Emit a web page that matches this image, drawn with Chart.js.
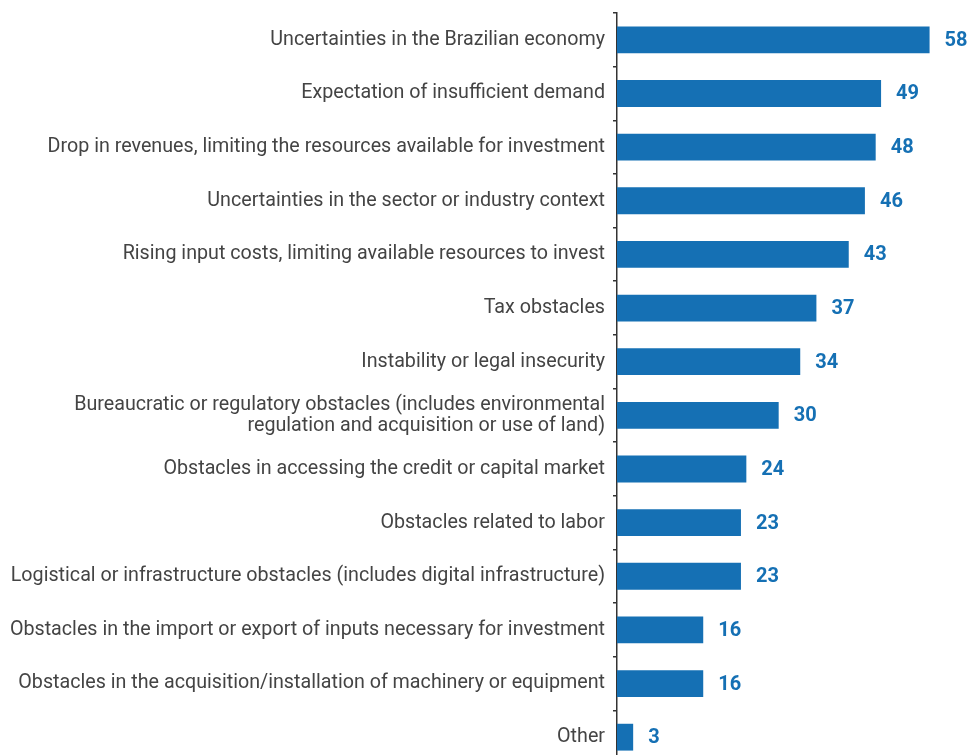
<!DOCTYPE html>
<html>
<head>
<meta charset="utf-8">
<script src="https://cdn.jsdelivr.net/npm/chart.js@4/dist/chart.umd.min.js"></script>
<style>
  html, body { margin: 0; padding: 0; background: #fff; overflow: hidden; }
</style>
</head>
<body>
<canvas id="chart" width="970" height="764"></canvas>
<script>
  // Categories and values
  const categories = [
    'Uncertainties in the Brazilian economy',
    'Expectation of insufficient demand',
    'Drop in revenues, limiting the resources available for investment',
    'Uncertainties in the sector or industry context',
    'Rising input costs, limiting available resources to invest',
    'Tax obstacles',
    'Instability or legal insecurity',
    ['Bureaucratic or regulatory obstacles (includes environmental', 'regulation and acquisition or use of land)'],
    'Obstacles in accessing the credit or capital market',
    'Obstacles related to labor',
    'Logistical or infrastructure obstacles (includes digital infrastructure)',
    'Obstacles in the import or export of inputs necessary for investment',
    'Obstacles in the acquisition/installation of machinery or equipment',
    'Other'
  ];
  const values = [58, 49, 48, 46, 43, 37, 34, 30, 24, 23, 23, 16, 16, 3];

  const BLUE = '#1570b4';

  // value labels at the end of each bar
  const barValueLabels = {
    id: 'barValueLabels',
    afterDatasetsDraw(chart) {
      const ctx = chart.ctx;
      const meta = chart.getDatasetMeta(0);
      ctx.save();
      ctx.fillStyle = BLUE;
      ctx.font = 'bold 20px Roboto';
      ctx.textAlign = 'left';
      ctx.textBaseline = 'middle';
      meta.data.forEach((bar, i) => {
        ctx.fillText(values[i], bar.x + 15, bar.y + 1);
      });
      ctx.restore();
    }
  };

  new Chart(document.getElementById('chart').getContext('2d'), {
    type: 'bar',
    data: {
      labels: categories,
      datasets: [{
        data: values,
        backgroundColor: BLUE,
        borderWidth: 0,
        barPercentage: 0.5,
        categoryPercentage: 1
      }]
    },
    options: {
      indexAxis: 'y',
      responsive: false,
      animation: false,
      layout: { padding: { top: 13, right: 0, bottom: 0, left: 0 } },
      plugins: {
        legend: { display: false },
        tooltip: { enabled: false }
      },
      scales: {
        x: {
          display: false,
          min: 0,
          max: 65.5
        },
        y: {
          afterFit: (scale) => {
            scale.width = 617;
            scale.paddingTop = 0;
            scale.paddingBottom = 0;
          },
          border: { display: true, color: '#333', width: 1.5 },
          grid: {
            drawOnChartArea: false,
            drawTicks: true,
            tickLength: 4,
            color: '#333',
            lineWidth: 1.5,
            offset: true
          },
          ticks: {
            color: '#444',
            padding: 8,
            font: { family: 'Roboto', size: 19.7, lineHeight: 1.05 }
          }
        }
      }
    },
    plugins: [barValueLabels]
  });
</script>
</body>
</html>
